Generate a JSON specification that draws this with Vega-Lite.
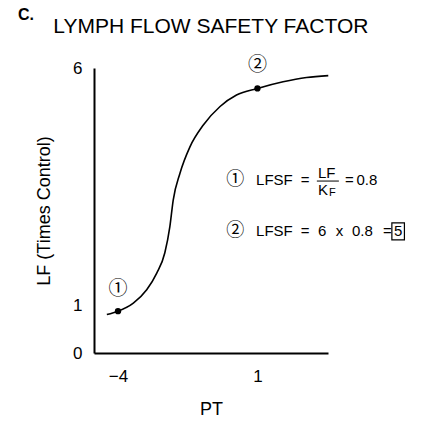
{
  "$schema": "https://vega.github.io/schema/vega-lite/v6.json",
  "width": 234,
  "height": 285,
  "autosize": "none",
  "padding": {"left": 94, "top": 68, "right": 95, "bottom": 70},
  "config": {"font": "Liberation Sans", "view": {"stroke": null}},
  "datasets": {
    "curve": [
      {"PT": -4.4, "LF": 0.81}, {"PT": -4.0, "LF": 0.88}, {"PT": -3.45, "LF": 1.05}, {"PT": -2.97, "LF": 1.33},
      {"PT": -2.61, "LF": 1.68}, {"PT": -2.32, "LF": 2.11}, {"PT": -2.14, "LF": 2.66}, {"PT": -2.02, "LF": 3.22},
      {"PT": -1.78, "LF": 3.78}, {"PT": -1.42, "LF": 4.34}, {"PT": -0.94, "LF": 4.8}, {"PT": -0.34, "LF": 5.19},
      {"PT": 0.25, "LF": 5.43}, {"PT": 1.0, "LF": 5.57}, {"PT": 1.92, "LF": 5.71}, {"PT": 2.76, "LF": 5.8}, {"PT": 3.54, "LF": 5.84}
    ],
    "points": [{"PT": -4.0, "LF": 0.88}, {"PT": 1.0, "LF": 5.57}],
    "circled": [{"PT": -4.0, "LF": 1.35, "t": "①"}, {"PT": 1.0, "LF": 6.06, "t": "②"}],
    "circledAnn": [{"PT": -0.12, "LF": 3.64, "t": "①"}, {"PT": -0.12, "LF": 2.57, "t": "②"}],
    "ann": [
      {"PT": 0.95, "LF": 3.64, "t": "LFSF"}, {"PT": 2.55, "LF": 3.64, "t": "="},
      {"PT": 3.17, "LF": 3.8, "t": "LF"}, {"PT": 3.17, "LF": 3.44, "t": "K"},
      {"PT": 4.14, "LF": 3.64, "t": "="}, {"PT": 4.55, "LF": 3.64, "t": "0.8"},
      {"PT": 0.95, "LF": 2.57, "t": "LFSF"}, {"PT": 2.55, "LF": 2.57, "t": "="},
      {"PT": 3.17, "LF": 2.57, "t": "6"}, {"PT": 3.81, "LF": 2.57, "t": "x"},
      {"PT": 4.39, "LF": 2.57, "t": "0.8"}, {"PT": 5.5, "LF": 2.57, "t": "="},
      {"PT": 5.9, "LF": 2.57, "t": "5"}
    ],
    "sub": [{"PT": 3.57, "LF": 3.36, "t": "F"}],
    "frac": [{"PT": 3.13, "PT2": 3.92, "LF": 3.62}],
    "box": [{"PT": 5.82, "PT2": 6.27, "LF": 2.38, "LF2": 2.74}],
    "titles": [{"PT": -0.67, "LF": 6.87, "t": "LYMPH FLOW SAFETY FACTOR"}],
    "panel": [{"PT": -7.3, "LF": 7.12, "t": "C."}]
  },
  "encoding": {
    "x": {"field": "PT", "type": "quantitative", "scale": {"domain": [-4.86, 3.53], "nice": false, "zero": false},
      "axis": {"title": "PT", "values": [-4, 1], "ticks": false, "grid": false, "domainColor": "black", "domainWidth": 2,
        "labelFontSize": 17, "labelColor": "black", "labelPadding": 15, "labelFont": "Liberation Sans",
        "titleFontSize": 18, "titleFontWeight": "normal", "titleColor": "black", "titlePadding": 16, "titleFont": "Liberation Sans"}},
    "y": {"field": "LF", "type": "quantitative", "scale": {"domain": [0, 6], "nice": false, "zero": true},
      "axis": {"title": "LF (Times Control)", "values": [0, 1, 6], "ticks": false, "grid": false, "domainColor": "black", "domainWidth": 2,
        "labelFontSize": 17, "labelColor": "black", "labelPadding": 12, "labelFont": "Liberation Sans",
        "titleFontSize": 18, "titleFontWeight": "normal", "titleColor": "black", "titlePadding": 19, "titleFont": "Liberation Sans"}}
  },
  "layer": [
    {"data": {"name": "curve"}, "mark": {"type": "line", "color": "black", "strokeWidth": 1.6, "interpolate": "monotone"}},
    {"data": {"name": "points"}, "mark": {"type": "point", "filled": true, "color": "black", "size": 40, "opacity": 1}},
    {"data": {"name": "circled"}, "mark": {"type": "text", "font": "Noto Sans CJK JP", "fontSize": 19, "color": "black", "align": "center", "baseline": "middle"}, "encoding": {"text": {"field": "t"}}},
    {"data": {"name": "circledAnn"}, "mark": {"type": "text", "font": "Noto Sans CJK JP", "fontSize": 18, "color": "black", "align": "left", "baseline": "middle"}, "encoding": {"text": {"field": "t"}}},
    {"data": {"name": "ann"}, "mark": {"type": "text", "fontSize": 15, "color": "black", "align": "left", "baseline": "middle"}, "encoding": {"text": {"field": "t"}}},
    {"data": {"name": "sub"}, "mark": {"type": "text", "fontSize": 11, "color": "black", "align": "left", "baseline": "middle"}, "encoding": {"text": {"field": "t"}}},
    {"data": {"name": "frac"}, "mark": {"type": "rule", "color": "black", "strokeWidth": 1}, "encoding": {"x2": {"field": "PT2"}}},
    {"data": {"name": "box"}, "mark": {"type": "rect", "fill": null, "stroke": "black", "strokeWidth": 1.2}, "encoding": {"x2": {"field": "PT2"}, "y2": {"field": "LF2"}}},
    {"data": {"name": "titles"}, "mark": {"type": "text", "fontSize": 21, "color": "black", "align": "center", "baseline": "middle"}, "encoding": {"text": {"field": "t"}}},
    {"data": {"name": "panel"}, "mark": {"type": "text", "fontSize": 16, "fontWeight": "bold", "color": "black", "align": "center", "baseline": "middle"}, "encoding": {"text": {"field": "t"}}}
  ]
}
